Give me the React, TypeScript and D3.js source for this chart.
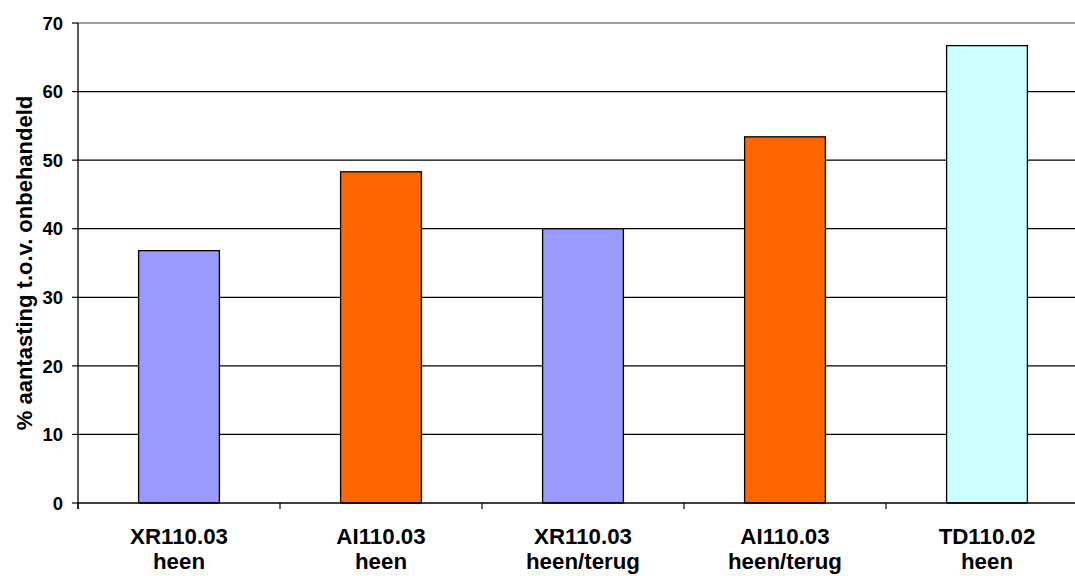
import { useEffect, useRef } from 'react';
import * as d3 from 'd3';

const categories = ['XR110.03\nheen', 'AI110.03\nheen', 'XR110.03\nheen/terug', 'AI110.03\nheen/terug', 'TD110.02\nheen'];
const values = [36.8, 48.3, 40.0, 53.4, 66.7];
const barColors = ['#9999FF', '#FF6600', '#9999FF', '#FF6600', '#CCFFFF'];
const yTicks = [0, 10, 20, 30, 40, 50, 60, 70];
const yTitle = '% aantasting t.o.v. onbehandeld';

const W = 1075;
const H = 576;
const PLOT = { left: 78, right: 1088, top: 23, bottom: 503 };
const FONT = 'Arial, "Liberation Sans", Helvetica, sans-serif';

export default function App() {
  const svgRef = useRef<SVGSVGElement>(null);

  useEffect(() => {
    const svg = svgRef.current;
    if (!svg) return;
    const root = d3.select(svg);
    root.selectAll('*').remove();

    const x = d3
      .scaleBand<number>()
      .domain(d3.range(categories.length))
      .range([PLOT.left, PLOT.right])
      .paddingInner(0.6)
      .paddingOuter(0.3);
    const step = x.step();

    const y = d3.scaleLinear().domain([0, 70]).range([PLOT.bottom, PLOT.top]);

    // gridlines (top one is the grey plot border)
    root
      .append('g')
      .selectAll('line')
      .data(yTicks.filter((t) => t > 0))
      .join('line')
      .attr('x1', PLOT.left)
      .attr('x2', PLOT.right)
      .attr('y1', (d) => y(d))
      .attr('y2', (d) => y(d))
      .attr('stroke', (d) => (d === 70 ? '#808080' : '#000'))
      .attr('stroke-width', (d) => (d === 70 ? 1.5 : 1.2));

    // bars
    root
      .append('g')
      .selectAll('rect')
      .data(values)
      .join('rect')
      .attr('x', (_d, i) => x(i)!)
      .attr('y', (d) => y(d))
      .attr('width', x.bandwidth())
      .attr('height', (d) => y(0) - y(d))
      .attr('fill', (_d, i) => barColors[i])
      .attr('stroke', '#000')
      .attr('stroke-width', 1.3);

    // axes lines
    root
      .append('line')
      .attr('x1', PLOT.left)
      .attr('x2', PLOT.left)
      .attr('y1', PLOT.top)
      .attr('y2', PLOT.bottom + 6)
      .attr('stroke', '#000')
      .attr('stroke-width', 1.3);
    root
      .append('line')
      .attr('x1', PLOT.left)
      .attr('x2', PLOT.right)
      .attr('y1', PLOT.bottom)
      .attr('y2', PLOT.bottom)
      .attr('stroke', '#000')
      .attr('stroke-width', 1.3);

    // y ticks + labels
    const yg = root.append('g');
    yg.selectAll('line')
      .data(yTicks)
      .join('line')
      .attr('x1', PLOT.left - 6)
      .attr('x2', PLOT.left)
      .attr('y1', (d) => y(d))
      .attr('y2', (d) => y(d))
      .attr('stroke', '#000')
      .attr('stroke-width', 1.2);
    yg.selectAll('text')
      .data(yTicks)
      .join('text')
      .attr('x', 63)
      .attr('y', (d) => y(d))
      .attr('dy', '0.36em')
      .attr('text-anchor', 'end')
      .attr('font-family', FONT)
      .attr('font-weight', 'bold')
      .attr('font-size', 18.5)
      .attr('fill', '#000')
      .text((d) => d);

    // x category ticks at boundaries
    root
      .append('g')
      .selectAll('line')
      .data(d3.range(categories.length))
      .join('line')
      .attr('x1', (i) => PLOT.left + i * step)
      .attr('x2', (i) => PLOT.left + i * step)
      .attr('y1', PLOT.bottom)
      .attr('y2', PLOT.bottom + 6)
      .attr('stroke', '#000')
      .attr('stroke-width', 1.2);

    // x labels
    const xl = root
      .append('g')
      .selectAll('text')
      .data(categories)
      .join('text')
      .attr('text-anchor', 'middle')
      .attr('font-family', FONT)
      .attr('font-weight', 'bold')
      .attr('font-size', 22.3)
      .attr('fill', '#000');
    xl.each(function (d, i) {
      const cx = x(i)! + x.bandwidth() / 2;
      d.split('\n').forEach((line, j) => {
        d3.select(this)
          .append('tspan')
          .attr('x', cx)
          .attr('y', 544 + j * 25)
          .text(line);
      });
    });

    // y title
    root
      .append('text')
      .attr('transform', `translate(32,263) rotate(-90)`)
      .attr('text-anchor', 'middle')
      .attr('font-family', FONT)
      .attr('font-weight', 'bold')
      .attr('font-size', 22)
      .attr('fill', '#000')
      .text(yTitle);
  }, []);

  return (
    <svg
      ref={svgRef}
      width={W}
      height={H}
      style={{ position: 'absolute', left: 0, top: 0, display: 'block', background: '#fff' }}
    />
  );
}
